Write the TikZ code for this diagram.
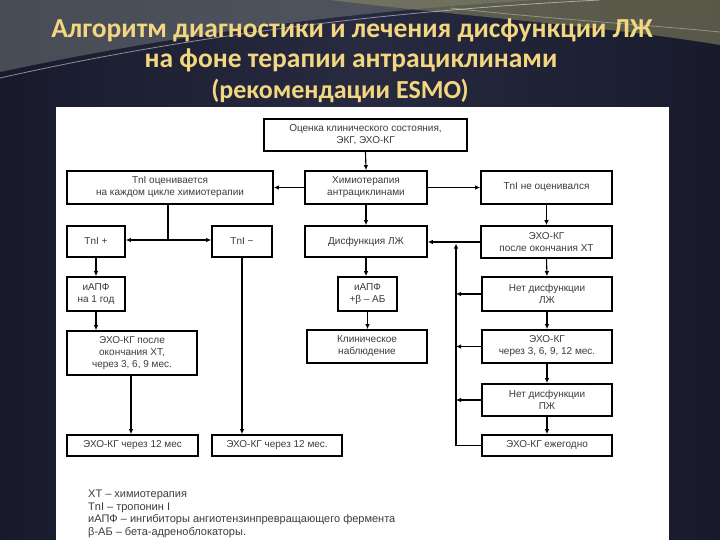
\documentclass[tikz,border=0pt]{standalone}
\usepackage{fontspec}
\setmainfont{Liberation Sans}
\newfontfamily\titlefont{Carlito}
\usetikzlibrary{arrows.meta}
\definecolor{bgA}{RGB}{24,26,44}
\definecolor{bgB}{RGB}{40,42,64}
\definecolor{swgray}{RGB}{110,118,120}
\definecolor{swolive}{RGB}{140,140,95}
\definecolor{titlecol}{RGB}{243,214,128}
\definecolor{boxtext}{RGB}{60,60,60}
\begin{document}
\begin{tikzpicture}[x=1pt,y=-1pt,
  box/.style={draw=black, line width=1.7pt, fill=white, inner sep=1pt, align=center,
    font=\fontsize{10}{12}\selectfont, text=boxtext},
  thinarr/.style={-{Latex[length=5pt,width=4.5pt]}, line width=1.1pt},
  thickarr/.style={-{Latex[length=5pt,width=4.5pt]}, line width=1.9pt},
  thickline/.style={line width=1.9pt},
  ttl/.style={font=\titlefont\bfseries\fontsize{27.5}{30}\selectfont, text=titlecol},
  leg/.style={anchor=west, inner sep=0pt, font=\fontsize{11}{12}\selectfont, text=boxtext}
]
\useasboundingbox (0,0) rectangle (720,540);
% background
\shade[left color=bgA, right color=bgA, middle color=bgB] (0,0) rectangle (720,540);
\fill[swgray, opacity=0.55] (0,0) -- (0,72) .. controls (150,40) and (330,12) .. (540,0) -- cycle;
\fill[swolive, opacity=0.55] (330,0) .. controls (480,18) and (620,28) .. (720,45) -- (720,0) -- cycle;
\draw[white, opacity=0.5, line width=0.8pt] (0,78) .. controls (160,42) and (360,12) .. (600,0);
\draw[white, opacity=0.35, line width=0.8pt] (450,8) .. controls (560,20) and (650,25) .. (720,32);
% title
\node[ttl] (t1) at (352,30) {Алгоритм диагностики и лечения дисфункции ЛЖ};
\node[ttl] (t2) at (351,60) {на фоне терапии антрациклинами};
\node[ttl, font=\titlefont\bfseries\fontsize{26}{30}\selectfont] (t3) at (340,91) {(рекомендации ESMO)};
% white panel
\fill[white] (56,107) rectangle (669,540);
% boxes
\node[box, minimum width=203pt, minimum height=32pt] (ocenka) at (365.5,135) {Оценка клинического состояния,\\ЭКГ, ЭХО-КГ};
\node[box, minimum width=122pt, minimum height=33pt] (chemo) at (366,187.5) {Химиотерапия\\антрациклинами};
\node[box, minimum width=206pt, minimum height=33pt] (tniyes) at (170,187.5) {TnI оценивается\\на каждом цикле химиотерапии};
\node[box, minimum width=131pt, minimum height=33pt] (tnino) at (546.5,187.5) {TnI не оценивался};
\node[box, minimum width=58pt, minimum height=31pt] (tplus) at (96,241.5) {TnI +};
\node[box, minimum width=60pt, minimum height=31pt] (tminus) at (242,241.5) {TnI −};
\node[box, minimum width=122pt, minimum height=31pt] (dysf) at (366,241.5) {Дисфункция ЛЖ};
\node[box, minimum width=131pt, minimum height=32pt] (echoafter) at (546.5,242) {ЭХО-КГ\\после окончания ХТ};
\node[box, minimum width=58pt, minimum height=34pt] (iapf1) at (96,294) {иАПФ\\на 1 год};
\node[box, minimum width=130pt, minimum height=44pt] (echo369) at (132,353) {ЭХО-КГ после\\окончания ХТ,\\через 3, 6, 9 мес.};
\node[box, minimum width=59pt, minimum height=34pt] (iapfb) at (367.5,294) {иАПФ\\+β – АБ};
\node[box, minimum width=120pt, minimum height=33pt] (klin) at (367,346.5) {Клиническое\\наблюдение};
\node[box, minimum width=130pt, minimum height=34pt] (netlzh) at (547,294) {Нет дисфункции\\ЛЖ};
\node[box, minimum width=130pt, minimum height=33pt] (echo3612) at (547,346.5) {ЭХО-КГ\\через 3, 6, 9, 12 мес.};
\node[box, minimum width=130pt, minimum height=32pt] (netpzh) at (547,400) {Нет дисфункции\\ПЖ};
\node[box, minimum width=130pt, minimum height=21pt] (echoyear) at (547,445.5) {ЭХО-КГ ежегодно};
\node[box, minimum width=131pt, minimum height=21pt] (echo12a) at (132.5,445.5) {ЭХО-КГ через 12 мес};
\node[box, minimum width=130pt, minimum height=21pt] (echo12b) at (277,445.5) {ЭХО-КГ через 12 мес.};
% connectors
\draw[thinarr] (ocenka.south) -- (chemo.north);
\draw[thinarr] (chemo.west) -- (tniyes.east);
\draw[thinarr] (chemo.east) -- (tnino.west);
\draw[thinarr] (chemo.south) -- (dysf.north);
\coordinate (j1) at (168,240);
\draw[thickline] (tniyes.south -| j1) -- (j1);
\draw[thickarr] (j1) -- (j1 -| tplus.east);
\draw[thickarr] (j1) -- (j1 -| tminus.west);
\draw[thinarr] (tplus.south) -- (iapf1.north);
\draw[thinarr] (iapf1.south) -- (iapf1.south |- echo369.north);
\coordinate (e1) at (131,375);
\draw[thinarr] (e1) -- (e1 |- echo12a.north);
\draw[thickarr] (tminus.south) -- (tminus.south |- echo12b.north);
\draw[thinarr] (dysf.south) -- (dysf.south |- iapfb.north);
\draw[thinarr] (iapfb.south) -- (iapfb.south |- klin.north);
\draw[thinarr] (tnino.south) -- (echoafter.north);
\draw[thickarr] (echoafter.west) -- (echoafter.west -| dysf.east);
\draw[thinarr] (echoafter.south) -- (netlzh.north);
\draw[thinarr] (netlzh.south) -- (echo3612.north);
\draw[thinarr] (echo3612.south) -- (netpzh.north);
\draw[thinarr] (netpzh.south) -- (echoyear.north);
\coordinate (vb) at (456,445.5);
\coordinate (vt) at (456,243.5);
\draw[thickarr] (echoyear.west) -- (vb) -- (vt);
\draw[thinarr] (netlzh.west) -- (netlzh.west -| vb);
\draw[thinarr] (echo3612.west) -- (echo3612.west -| vb);
\draw[thinarr] (netpzh.west) -- (netpzh.west -| vb);
% legend
\node[leg] (l1) at (88,495) {ХТ – химиотерапия};
\node[leg] (l2) at (88,507.5) {TnI – тропонин I};
\node[leg] (l3) at (88,520) {иАПФ – ингибиторы ангиотензинпревращающего фермента};
\node[leg] (l4) at (88,532.5) {β-АБ – бета-адреноблокаторы.};
\end{tikzpicture}
\end{document}
